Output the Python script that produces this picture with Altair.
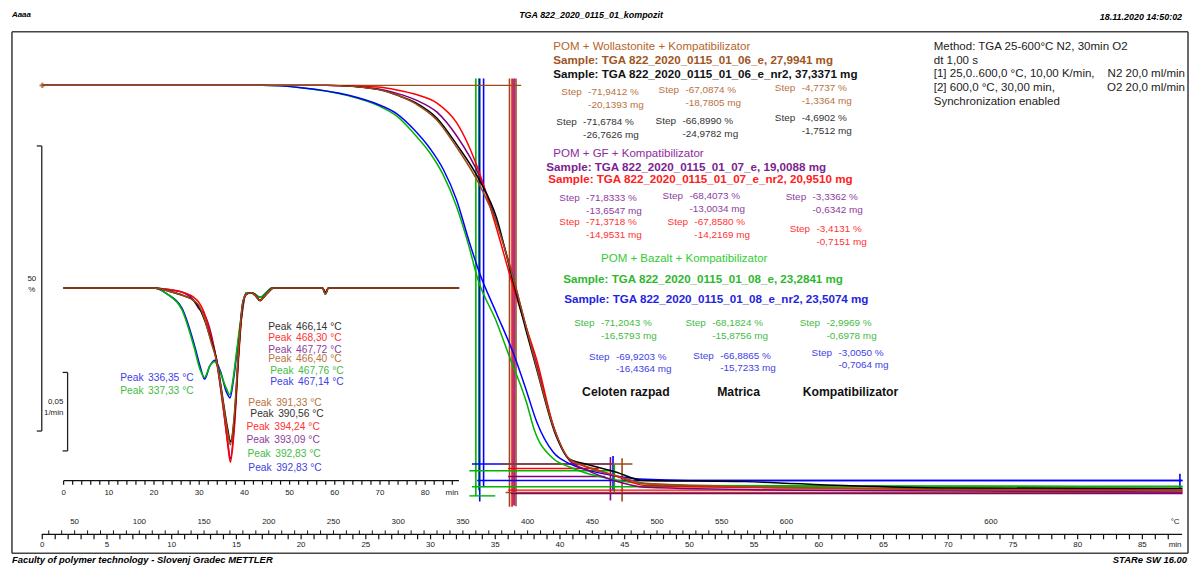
import altair as alt
import pandas as pd

# ---------------- TGA curves: time (min) / mass (%) ----------------
woll_e_t = [0, 22, 25.9, 27.4, 28.9, 30.5, 32.0, 33.8, 35.1, 36.1, 37.4, 38.2, 39.7, 40.7, 42.0, 44.3, 46.6, 55, 70, 88.1]
woll_e_m = [100, 100, 99.3, 98.3, 96.7, 93.9, 89.2, 82.5, 75.8, 68.5, 57.5, 50.5, 38.8, 34.5, 33.2, 31.6, 30.2, 29.6, 29.1, 28.9]

woll_nr2_t = [0, 22, 25.9, 27.4, 28.9, 30.5, 32.0, 33.8, 35.1, 36.1, 37.4, 38.2, 39.7, 40.7, 42.0, 44.3, 46.4, 54.3, 62, 69.6, 88.1]
woll_nr2_m = [100, 100, 99.3, 98.3, 96.9, 94.25, 89.7, 83.3, 76.8, 68.1, 56.8, 50.2, 38.5, 34.5, 33.6, 32.2, 30.7, 30.5, 29.8, 29.4, 29.3]

gf_e_t = [0, 22, 25.9, 27.4, 28.9, 30.5, 32.0, 33.8, 35.1, 36.3, 37.4, 38.2, 39.6, 40.7, 42.0, 44.3, 46.6, 58, 88.1]
gf_e_m = [100, 100, 99.4, 98.6, 97.4, 95.3, 91.2, 84, 76, 67, 57.5, 51, 39.5, 34.3, 32.6, 30.6, 29.5, 29, 28.7]

gf_nr2_t = [0, 22, 25.9, 27.4, 28.9, 30.5, 32.0, 33.8, 35.1, 36.4, 37.4, 38.2, 39.5, 40.7, 42.0, 44.3, 46.6, 58.1, 73.5, 88.1]
gf_nr2_m = [100, 100, 99.7, 99.2, 98.4, 96.9, 93.5, 84.5, 74.9, 64.6, 57.5, 51.9, 40.2, 34.5, 33.1, 31.5, 29.8, 29.4, 29.3, 29.0]

baz_e_t = [0, 17, 20, 23.6, 26, 27.4, 28.7, 30, 31, 32, 33, 33.6, 35.1, 36.1, 37.4, 38.0, 39.5, 40.7, 42, 44.3, 46.6, 50, 88.1]
baz_e_m = [100, 100, 99.6, 98.2, 96.4, 94.6, 91.6, 88, 84.2, 78.8, 71.5, 66.4, 58.5, 52.4, 44.5, 39.7, 34.5, 33.1, 32, 30.8, 30.1, 29.8, 29.7]

baz_nr2_t = [0, 17, 20, 23.6, 26, 27.4, 28.7, 30, 31, 32, 33, 33.8, 35.1, 36.4, 37.4, 38.2, 39.5, 40.7, 42, 44.3, 46.6, 50, 88.1]
baz_nr2_m = [100, 100, 99.6, 98.3, 96.6, 95, 92.3, 88.8, 85.2, 80, 72.5, 67, 60, 53, 46.5, 41, 35.6, 33.7, 32.6, 31.5, 30.9, 30.7, 30.7]

# ---------------- DTG curves: time (min) / rate (1/min) ----------------
dtg_a_t = [0, 20, 23.3, 26.6, 28.8, 29.9, 31.0, 32.7, 33.8, 35.4, 36.3, 36.9, 37.8, 38.7, 39.6, 40.4, 41.5, 42.5, 43.5, 44.5, 45.5, 46.4, 57.3, 57.9, 58.6, 87.5]
dtg_woll_e = [0, 0, -0.002, -0.005, -0.008, -0.011, -0.018, -0.035, -0.046, -0.075, -0.092, -0.100, -0.080, -0.040, -0.010, -0.004, -0.003, -0.005, -0.008, -0.005, -0.002, 0, 0, -0.004, 0, 0]
dtg_woll_nr2 = [0, 0, -0.002, -0.005, -0.008, -0.012, -0.019, -0.034, -0.045, -0.074, -0.090, -0.098, -0.082, -0.042, -0.011, -0.004, -0.003, -0.005, -0.008, -0.005, -0.002, 0, 0, -0.003, 0, 0]
dtg_gf_e = [0, 0, -0.001, -0.003, -0.008, -0.013, -0.016, -0.030, -0.046, -0.078, -0.098, -0.109, -0.085, -0.042, -0.010, -0.004, -0.003, -0.005, -0.008, -0.005, -0.002, 0, 0, -0.003, 0, 0]
dtg_gf_nr2 = [0, 0, -0.001, -0.003, -0.006, -0.009, -0.015, -0.032, -0.045, -0.078, -0.099, -0.111, -0.088, -0.045, -0.012, -0.004, -0.003, -0.005, -0.008, -0.005, -0.002, 0, 0, -0.003, 0, 0]

dtg_b_t = [0, 20, 23, 26.2, 28.8, 30.2, 31.2, 32.3, 33.4, 34.8, 36.0, 36.8, 37.5, 38.3, 39.3, 40.4, 41.7, 43.5, 44.8, 46, 57.3, 57.9, 58.6, 87.5]
dtg_baz_e = [0, 0, -0.004, -0.014, -0.037, -0.052, -0.057, -0.050, -0.047, -0.055, -0.064, -0.068, -0.058, -0.040, -0.018, -0.003, -0.003, -0.006, -0.003, 0, 0, -0.004, 0, 0]
dtg_baz_nr2 = [0, 0, -0.004, -0.013, -0.035, -0.050, -0.058, -0.050, -0.046, -0.054, -0.066, -0.070, -0.060, -0.042, -0.020, -0.003, -0.003, -0.006, -0.003, 0, 0, -0.004, 0, 0]

# ---------------- step evaluation limits (time, mass) ----------------
vlim_series = ["baz_e", "baz_e", "baz_nr2", "baz_nr2", "woll_e", "gf_nr2", "gf_e", "woll_e", "gf_e", "baz_nr2", "baz_e", "woll_e", "baz_nr2"]
vlim_t = [33.5, 33.73, 33.8, 34.1, 36.1, 36.3, 36.45, 36.6, 43.9, 44.1, 44.2, 44.8, 87.9]
vlim_top = [101.2, 101.2, 101.2, 101.2, 101.2, 101.2, 101.2, 101.2, 34.8, 35.0, 33.5, 34.6, 31.9]
vlim_bot = [28.0, 29.0, 27.0, 29.5, 26.1, 26.1, 26.3, 26.2, 27.2, 29.0, 28.5, 27.0, 29.3]

hlim_series = ["woll_e", "baz_nr2", "woll_e", "baz_e", "gf_nr2", "gf_e", "baz_nr2", "baz_e", "gf_nr2", "woll_e", "gf_e", "baz_e"]
hlim_m = [100, 33.6, 33.6, 32.4, 32.8, 31.4, 30.7, 29.6, 29.0, 28.6, 28.4, 28.0]
hlim_t1 = [0, 33.2, 35.5, 33.0, 36.0, 36.0, 33.6, 33.2, 36.0, 35.8, 36.2, 33.0]
hlim_t2 = [37.0, 44.1, 45.6, 44.0, 43.0, 43.5, 88.1, 88.1, 88.1, 88.1, 88.1, 35.0]

# ---------------- annotation values ----------------
samples = ["woll_e", "woll_nr2", "gf_e", "gf_nr2", "baz_e", "baz_nr2"]
step_pct = {
    "woll_e": ["-71,9412 %", "-67,0874 %", "-4,7737 %"],
    "woll_nr2": ["-71,6784 %", "-66,8990 %", "-4,6902 %"],
    "gf_e": ["-71,8333 %", "-68,4073 %", "-3,3362 %"],
    "gf_nr2": ["-71,3718 %", "-67,8580 %", "-3,4131 %"],
    "baz_e": ["-71,2043 %", "-68,1824 %", "-2,9969 %"],
    "baz_nr2": ["-69,9203 %", "-66,8865 %", "-3,0050 %"],
}
step_mg = {
    "woll_e": ["-20,1393 mg", "-18,7805 mg", "-1,3364 mg"],
    "woll_nr2": ["-26,7626 mg", "-24,9782 mg", "-1,7512 mg"],
    "gf_e": ["-13,6547 mg", "-13,0034 mg", "-0,6342 mg"],
    "gf_nr2": ["-14,9531 mg", "-14,2169 mg", "-0,7151 mg"],
    "baz_e": ["-16,5793 mg", "-15,8756 mg", "-0,6978 mg"],
    "baz_nr2": ["-16,4364 mg", "-15,7233 mg", "-0,7064 mg"],
}
sample_names = {
    "woll_e": "Sample: TGA 822_2020_0115_01_06_e, 27,9941 mg",
    "woll_nr2": "Sample: TGA 822_2020_0115_01_06_e_nr2, 37,3371 mg",
    "gf_e": "Sample: TGA 822_2020_0115_01_07_e, 19,0088 mg",
    "gf_nr2": "Sample: TGA 822_2020_0115_01_07_e_nr2, 20,9510 mg",
    "baz_e": "Sample: TGA 822_2020_0115_01_08_e, 23,2841 mg",
    "baz_nr2": "Sample: TGA 822_2020_0115_01_08_e_nr2, 23,5074 mg",
}
peak_series = ["woll_nr2", "gf_nr2", "gf_e", "woll_e", "baz_e", "baz_nr2", "baz_nr2", "baz_e",
               "woll_e", "woll_nr2", "gf_nr2", "gf_e", "baz_e", "baz_nr2"]
peak_vals = ["466,14 °C", "468,30 °C", "467,72 °C", "466,40 °C", "467,76 °C", "467,14 °C", "336,35 °C", "337,33 °C",
             "391,33 °C", "390,56 °C", "394,24 °C", "393,09 °C", "392,83 °C", "392,83 °C"]

min_labels = list(range(0, 90, 5))
temp_labels = list(range(50, 650, 50))
dtg_min_labels = list(range(0, 90, 10))

# ---------------- styles / layout ----------------
line_color = {"woll_e": "#9C4A1A", "woll_nr2": "#000000", "gf_e": "#800080",
              "gf_nr2": "#FF0000", "baz_e": "#00B400", "baz_nr2": "#0000FF"}
text_color = {"woll_e": "#B8733F", "woll_nr2": "#333333", "gf_e": "#8C3D9C",
              "gf_nr2": "#FF3333", "baz_e": "#44BB44", "baz_nr2": "#4141E6"}
bold_color = {"woll_e": "#9E5522", "woll_nr2": "#111111", "gf_e": "#7B2390",
              "gf_nr2": "#FF2020", "baz_e": "#2EB82E", "baz_nr2": "#2424E0"}

FONT = "Liberation Sans"
NARROW = "Liberation Sans Narrow, Liberation Sans"
W, H = 1191, 560
OX, OY = 8, 8

MAIN_X0, MAIN_PXMIN, MAIN_Y100, MAIN_PXPCT = 42.5 - OX, 13.03, 84 - OY, 5.74
DTG_X0, DTG_PXMIN, DTG_Y0, DTG_PXU = 64 - OX, 4.55, 288 - OY, 1580.0

sx_main = alt.Scale(domain=[-MAIN_X0 / MAIN_PXMIN, (W - MAIN_X0) / MAIN_PXMIN], nice=False, zero=False)
sy_main = alt.Scale(domain=[100 - (H - MAIN_Y100) / MAIN_PXPCT, 100 + MAIN_Y100 / MAIN_PXPCT], nice=False, zero=False)
sx_dtg = alt.Scale(domain=[-DTG_X0 / DTG_PXMIN, (W - DTG_X0) / DTG_PXMIN], nice=False, zero=False)
sy_dtg = alt.Scale(domain=[-(H - DTG_Y0) / DTG_PXU, DTG_Y0 / DTG_PXU], nice=False, zero=False)

step_pos = {
    "woll_e": [(565, 91), (663, 89), (780, 87)],
    "woll_nr2": [(560, 121), (660, 120), (780, 117)],
    "gf_e": [(563, 197), (667, 195), (791, 196)],
    "gf_nr2": [(563, 222), (672, 222), (795, 229)],
    "baz_e": [(578, 323), (690, 323), (805, 323)],
    "baz_nr2": [(593, 357), (698, 356), (817, 353)],
}
sample_pos = {"woll_e": (557, 58), "woll_nr2": (557, 73), "gf_e": (550, 166),
              "gf_nr2": (552, 178), "baz_e": (567, 279), "baz_nr2": (568, 299)}
peak_pos = [(270, 327), (270, 338), (270, 350), (270, 360), (272, 372), (272, 383), (121, 379), (121, 392),
            (250, 404), (252, 415), (248, 428), (248, 441), (249, 455), (250, 469)]

layers = []


def text_layer(rows, size, weight="normal", style="normal", font=FONT, align="left"):
    df = pd.DataFrame(rows, columns=["text", "x", "y", "color"])
    df["x"] = df["x"] - OX
    df["y"] = df["y"] - OY
    return alt.Chart(df).mark_text(align=align, baseline="middle", fontSize=size, fontWeight=weight,
                                   fontStyle=style, font=font).encode(
        x=alt.X("x:Q", scale=None, axis=None), y=alt.Y("y:Q", scale=None, axis=None),
        text="text:N", color=alt.Color("color:N", scale=None, legend=None))


def seg_layer(rows, width):
    df = pd.DataFrame(rows, columns=["x1", "y1", "x2", "y2", "color"])
    for c in ["x1", "x2"]:
        df[c] = df[c] - OX
    for c in ["y1", "y2"]:
        df[c] = df[c] - OY
    return alt.Chart(df).mark_rule(strokeWidth=width).encode(
        x=alt.X("x1:Q", scale=None, axis=None), x2="x2:Q",
        y=alt.Y("y1:Q", scale=None, axis=None), y2="y2:Q",
        color=alt.Color("color:N", scale=None, legend=None))


# frame
layers.append(seg_layer([(12, 30, 1196, 30, "#444"), (12, 555, 1196, 555, "#444"),
                         (12, 30, 12, 555, "#444"), (1196, 30, 1196, 555, "#444")], 1.6))
# scale brackets and axis lines
layers.append(seg_layer([(42, 145, 42, 432, "#222"), (37, 145, 42, 145, "#222"), (37, 432, 42, 432, "#222"),
                         (68, 373, 68, 452, "#222"), (63, 373, 68, 373, "#222"), (63, 452, 68, 452, "#222"),
                         (42, 536, 1190, 536, "#111"), (64, 482, 462, 482, "#111")], 1.3))

# main axis ticks
tick_df = pd.DataFrame({"t": list(range(0, 88))})
layers.append(alt.Chart(tick_df).mark_rule(color="#111", strokeWidth=1.2).encode(
    x=alt.X("t:Q", scale=sx_main, axis=None), y=alt.value(536 - OY), y2=alt.value(541 - OY)))
ttick_df = pd.DataFrame({"t": [(T - 25) / 10 for T in range(30, 610, 10)]})
layers.append(alt.Chart(ttick_df).mark_rule(color="#111", strokeWidth=1.0).encode(
    x=alt.X("t:Q", scale=sx_main, axis=None), y=alt.value(532 - OY), y2=alt.value(536 - OY)))
min_df = pd.DataFrame({"t": min_labels, "lab": [str(v) for v in min_labels]})
layers.append(alt.Chart(min_df).mark_text(fontSize=8, font=FONT, color="#222", baseline="middle").encode(
    x=alt.X("t:Q", scale=sx_main, axis=None), y=alt.value(547 - OY), text="lab:N"))
temp_df = pd.DataFrame({"t": [(T - 25) / 10 for T in temp_labels] + [73.3],
                        "lab": [str(v) for v in temp_labels] + ["600"]})
layers.append(alt.Chart(temp_df).mark_text(fontSize=8, font=FONT, color="#222", baseline="middle").encode(
    x=alt.X("t:Q", scale=sx_main, axis=None), y=alt.value(524 - OY), text="lab:N"))

# DTG axis ticks
dtick_df = pd.DataFrame({"t": list(range(0, 88, 2))})
layers.append(alt.Chart(dtick_df).mark_rule(color="#111", strokeWidth=1.2).encode(
    x=alt.X("t:Q", scale=sx_dtg, axis=None), y=alt.value(482 - OY), y2=alt.value(486 - OY)))
dlab_df = pd.DataFrame({"t": dtg_min_labels, "lab": [str(v) for v in dtg_min_labels]})
layers.append(alt.Chart(dlab_df).mark_text(fontSize=8, font=FONT, color="#222", baseline="middle").encode(
    x=alt.X("t:Q", scale=sx_dtg, axis=None), y=alt.value(494 - OY), text="lab:N"))

# axis unit texts
layers.append(text_layer([("min", 1183, 547, "#222"), ("°C", 1183, 524, "#222"), ("min", 455, 494, "#222"),
                          ("50", 32, 279, "#222"), ("%", 32, 290, "#222"),
                          ("0,05", 56, 403, "#222"), ("1/min", 54, 414, "#222")], 8, align="center"))

# header / footer
layers.append(text_layer([("Aaaa", 12, 13, "#000")], 8, "bold", "italic", NARROW))
layers.append(text_layer([("TGA 822_2020_0115_01_kompozit", 595, 13, "#000")], 9, "bold", "italic", NARROW, "center"))
layers.append(text_layer([("18.11.2020 14:50:02", 1190, 15, "#000")], 9, "bold", "italic", NARROW, "right"))
layers.append(text_layer([("Faculty of polymer technology - Slovenj Gradec METTLER", 12, 562, "#000")], 9.5, "bold", "italic", NARROW))
layers.append(text_layer([("STARe SW 16.00", 1195, 562, "#000")], 9.5, "bold", "italic", NARROW, "right"))

# annotation texts
group_rows = [
    ("POM + Wollastonite + Kompatibilizator", 557, 45, "#B5652B"),
    ("POM + GF + Kompatibilizator", 557, 153, "#8E2A9E"),
    ("POM + Bazalt + Kompatibilizator", 605, 259, "#33CC33"),
]
layers.append(text_layer(group_rows, 11.6))
method_rows = [
    ("Method: TGA 25-600°C N2, 30min O2", 940, 45, "#222"),
    ("dt 1,00 s", 940, 59, "#222"),
    ("[1] 25,0..600,0 °C, 10,00 K/min,", 940, 73, "#222"),
    ("[2] 600,0 °C, 30,00 min,", 940, 87, "#222"),
    ("Synchronization enabled", 940, 101, "#222"),
]
layers.append(text_layer(method_rows, 11.6))
layers.append(text_layer([("N2 20,0 ml/min", 1193, 73, "#222"), ("O2 20,0 ml/min", 1193, 87, "#222")],
                         11.6, align="right"))

bold_rows = [(sample_names[s], sample_pos[s][0], sample_pos[s][1], bold_color[s]) for s in samples]
layers.append(text_layer(bold_rows, 11.7, "bold"))
layers.append(text_layer([("Celoten razpad", 586, 393, "#111"), ("Matrica", 722, 393, "#111"),
                          ("Kompatibilizator", 808, 393, "#111")], 12.3, "bold"))

step_rows = []
for s in samples:
    for i, (x, y) in enumerate(step_pos[s]):
        step_rows.append(("Step", x, y, text_color[s]))
        step_rows.append((step_pct[s][i], x + 27, y, text_color[s]))
        step_rows.append((step_mg[s][i], x + 27, y + 13, text_color[s]))
layers.append(text_layer(step_rows, 10))

peak_rows = []
for s, v, (x, y) in zip(peak_series, peak_vals, peak_pos):
    peak_rows.append(("Peak", x, y, text_color[s]))
    peak_rows.append((v, x + 28, y, text_color[s]))
layers.append(text_layer(peak_rows, 10.3))

# DTG curves
dtg_data = [("baz_nr2", dtg_b_t, dtg_baz_nr2), ("baz_e", dtg_b_t, dtg_baz_e), ("gf_e", dtg_a_t, dtg_gf_e),
            ("gf_nr2", dtg_a_t, dtg_gf_nr2), ("woll_nr2", dtg_a_t, dtg_woll_nr2), ("woll_e", dtg_a_t, dtg_woll_e)]
for s, t, v in dtg_data:
    df = pd.DataFrame({"t": t, "v": v})
    layers.append(alt.Chart(df).mark_line(color=line_color[s], strokeWidth=1.6, interpolate="monotone").encode(
        x=alt.X("t:Q", scale=sx_dtg, axis=None), y=alt.Y("v:Q", scale=sy_dtg, axis=None)))

# step evaluation limit lines
vdf = pd.DataFrame({"t": vlim_t, "top": vlim_top, "bot": vlim_bot,
                    "c": [line_color[s] for s in vlim_series]})
layers.append(alt.Chart(vdf).mark_rule(strokeWidth=1.6).encode(
    x=alt.X("t:Q", scale=sx_main, axis=None), y=alt.Y("top:Q", scale=sy_main, axis=None), y2="bot:Q",
    color=alt.Color("c:N", scale=None, legend=None)))
hdf = pd.DataFrame({"m": hlim_m, "t1": hlim_t1, "t2": hlim_t2,
                    "c": [line_color[s] for s in hlim_series]})
layers.append(alt.Chart(hdf).mark_rule(strokeWidth=1.4).encode(
    x=alt.X("t1:Q", scale=sx_main, axis=None), x2="t2:Q", y=alt.Y("m:Q", scale=sy_main, axis=None),
    color=alt.Color("c:N", scale=None, legend=None)))

# TGA curves
tga_data = [("baz_e", baz_e_t, baz_e_m), ("baz_nr2", baz_nr2_t, baz_nr2_m), ("gf_e", gf_e_t, gf_e_m),
            ("gf_nr2", gf_nr2_t, gf_nr2_m), ("woll_nr2", woll_nr2_t, woll_nr2_m), ("woll_e", woll_e_t, woll_e_m)]
for s, t, m in tga_data:
    df = pd.DataFrame({"t": t, "m": m})
    layers.append(alt.Chart(df).mark_line(color=line_color[s], strokeWidth=1.5, interpolate="monotone").encode(
        x=alt.X("t:Q", scale=sx_main, axis=None), y=alt.Y("m:Q", scale=sy_main, axis=None)))

start_df = pd.DataFrame({"t": [woll_e_t[0]], "m": [woll_e_m[0]]})
layers.append(alt.Chart(start_df).mark_point(shape="cross", size=30, color=line_color["woll_e"], filled=True).encode(
    x=alt.X("t:Q", scale=sx_main, axis=None), y=alt.Y("m:Q", scale=sy_main, axis=None)))

chart = alt.layer(*layers).resolve_scale(x="independent", y="independent", color="independent").properties(
    width=W, height=H, padding=0, autosize=alt.AutoSizeParams(type="none")
).configure_view(strokeWidth=0)

chart.save("out.html", embed_options={"renderer": "svg", "actions": False})
